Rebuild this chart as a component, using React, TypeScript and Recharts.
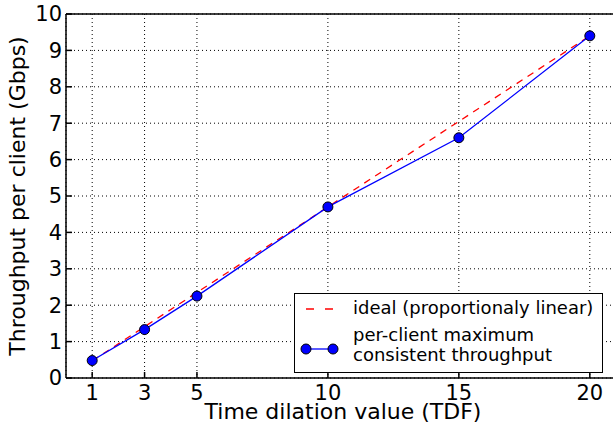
import React from "react";
import {
  LineChart,
  Line,
  XAxis,
  YAxis,
  CartesianGrid,
  ReferenceLine,
} from "recharts";

const tdf = [1, 3, 5, 10, 15, 20];
const measured = [0.48, 1.33, 2.25, 4.7, 6.6, 9.4];
const ideal = [0.47, 1.41, 2.35, 4.7, 7.05, 9.4];
const xTicks = [1, 3, 5, 10, 15, 20];
const yTicks = [0, 1, 2, 3, 4, 5, 6, 7, 8, 9, 10];

const data = tdf.map((t, i) => ({ tdf: t, measured: measured[i], ideal: ideal[i] }));

const font = "'DejaVu Sans', sans-serif";

export default function App() {
  return (
    <div
      style={{
        position: "fixed",
        left: 0,
        top: 0,
        width: 613,
        height: 432,
        overflow: "hidden",
        background: "#fff",
        fontFamily: font,
      }}
    >
      <LineChart
        width={620}
        height={432}
        data={data}
        margin={{ top: 14, right: 4, bottom: 24, left: 16 }}
      >
        <CartesianGrid stroke="#000" strokeDasharray="1 3" />
        <XAxis
          dataKey="tdf"
          type="number"
          domain={[0, 21]}
          ticks={xTicks}
          height={30}
          stroke="#000"
          strokeWidth={1.5}
          tickSize={-6}
          tickMargin={13}
          tick={{ fontSize: 21, fill: "#000", fontFamily: font }}
        />
        <YAxis
          type="number"
          domain={[0, 10]}
          ticks={yTicks}
          width={50}
          stroke="#000"
          strokeWidth={1.5}
          tickSize={-6}
          tickMargin={10}
          tick={{ fontSize: 21, fill: "#000", fontFamily: font }}
        />
        <ReferenceLine y={10} stroke="#000" strokeWidth={1.5} />
        <Line
          dataKey="ideal"
          stroke="#ff0000"
          strokeWidth={1.3}
          strokeDasharray="7 6"
          dot={false}
          isAnimationActive={false}
        />
        <Line
          dataKey="measured"
          stroke="#0000ff"
          strokeWidth={1.3}
          dot={{ r: 5, fill: "#0000ff", stroke: "#000", strokeWidth: 1 }}
          isAnimationActive={false}
        />
      </LineChart>

      <div
        style={{
          position: "absolute",
          left: 0,
          top: 196,
          transform: "translate(-50%, -50%) rotate(-90deg)",
          marginLeft: 18,
          whiteSpace: "nowrap",
          fontSize: 22,
          lineHeight: "18px",
        }}
      >
        Throughput per client (Gbps)
      </div>
      <div
        style={{
          position: "absolute",
          left: 343,
          top: 404,
          transform: "translateX(-50%)",
          whiteSpace: "nowrap",
          fontSize: 22,
          lineHeight: "16px",
        }}
      >
        Time dilation value (TDF)
      </div>

      <div
        style={{
          position: "absolute",
          left: 294,
          top: 293,
          width: 309,
          height: 80,
          border: "1px solid #000",
          background: "#fff",
          fontSize: 18,
          lineHeight: "20px",
          boxSizing: "border-box",
        }}
      >
        <svg style={{ position: "absolute", left: 0, top: 5 }} width={50} height={20}>
          <line x1={11} y1={10} x2={38} y2={10} stroke="#ff0000" strokeWidth={1.3} strokeDasharray="8 11" />
        </svg>
        <div style={{ position: "absolute", left: 58, top: 4, whiteSpace: "nowrap" }}>
          ideal (proportionaly linear)
        </div>
        <svg style={{ position: "absolute", left: 0, top: 45 }} width={50} height={20}>
          <line x1={11} y1={10} x2={38} y2={10} stroke="#0000ff" strokeWidth={1.3} />
          <circle cx={11} cy={10} r={5} fill="#0000ff" stroke="#000" />
          <circle cx={38} cy={10} r={5} fill="#0000ff" stroke="#000" />
        </svg>
        <div style={{ position: "absolute", left: 58, top: 31, whiteSpace: "nowrap" }}>
          per-client maximum
          <br />
          consistent throughput
        </div>
      </div>
    </div>
  );
}
